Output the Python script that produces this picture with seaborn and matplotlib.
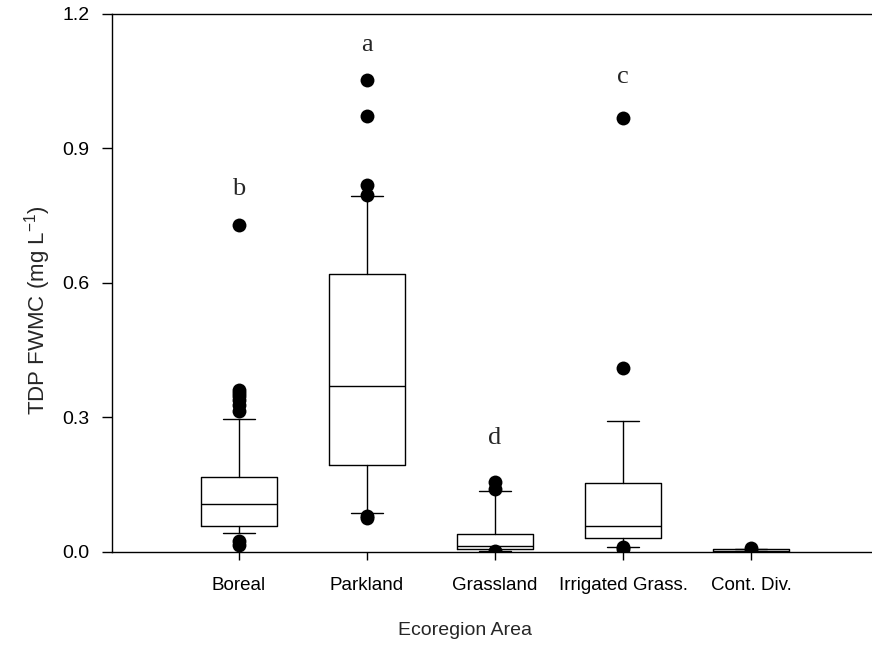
import numpy as np
import pandas as pd
import matplotlib
matplotlib.use("Agg")
import matplotlib.pyplot as plt
import seaborn as sns

# Werte
categories = ["Boreal", "Parkland", "Grassland", "Irrigated Grass.", "Cont. Div."]
q1 = [0.058, 0.194, 0.007, 0.032, 0.001]
medians = [0.107, 0.371, 0.014, 0.058, 0.003]
q3 = [0.168, 0.619, 0.040, 0.153, 0.006]
whisker_low = [0.042, 0.088, 0.003, 0.012, 0.001]
whisker_high = [0.296, 0.793, 0.137, 0.292, 0.006]
fliers = [
    [0.729, 0.362, 0.355, 0.347, 0.338, 0.328, 0.315, 0.025, 0.015],
    [1.053, 0.973, 0.819, 0.796, 0.081, 0.075],
    [0.155, 0.140, 0.003, 0.001],
    [0.967, 0.411, 0.012, 0.007],
    [0.008, 0.003],
]
letters = ["b", "a", "d", "c", ""]
letter_y = [0.81, 1.13, 0.255, 1.06, 0.0]
y_ticks = [0.0, 0.3, 0.6, 0.9, 1.2]

sns.set_style("ticks")
plt.rcParams['font.family'] = ['Liberation Sans', 'DejaVu Sans']
plt.rcParams['mathtext.default'] = 'regular'

fig = plt.figure(figsize=(8.72, 6.5), dpi=100)
ax = fig.add_axes([0.1284, 0.1508, 0.8716, 0.8277])

stats = []
for i, cat in enumerate(categories):
    stats.append({
        'label': cat, 'q1': q1[i], 'med': medians[i], 'q3': q3[i],
        'whislo': whisker_low[i], 'whishi': whisker_high[i], 'fliers': [],
    })

ax.bxp(stats, positions=range(len(categories)), widths=0.6, showfliers=False,
       boxprops=dict(color='black', linewidth=1),
       medianprops=dict(color='black', linewidth=1),
       whiskerprops=dict(color='black', linewidth=1),
       capprops=dict(color='black', linewidth=1), capwidths=0.25)

# Ausreißer als Punkte
flier_df = pd.DataFrame({
    'Region': [cat for cat, f in zip(categories, fliers) for _ in f],
    'TDP': [v for f in fliers for v in f],
})
sns.stripplot(data=flier_df, x='Region', y='TDP', order=categories, jitter=False,
              color='black', size=10, linewidth=0, ax=ax, zorder=3)

for i, (lab, yv) in enumerate(zip(letters, letter_y)):
    if lab:
        ax.text(i, yv, lab, ha='center', va='center', fontsize=19,
                family=['Liberation Serif', 'DejaVu Serif'])

ax.set_xlim(-0.992, 4.945)
ax.set_ylim(0, 1.2)
ax.set_yticks(y_ticks)
ax.set_yticklabels([f"{t:.1f}" for t in y_ticks], fontsize=14)
ax.set_xticks(range(len(categories)))
ax.set_xticklabels(categories, fontsize=13.5)
ax.tick_params(axis='y', direction='out', length=7, width=1, pad=9, colors='black')
ax.tick_params(axis='x', direction='out', length=6, width=1, pad=12, colors='black')

for side in ['left', 'bottom', 'top']:
    ax.spines[side].set_visible(True)
    ax.spines[side].set_color('black')
    ax.spines[side].set_linewidth(1)
ax.spines['right'].set_visible(False)

ax.set_xlabel('Ecoregion Area', fontsize=14)
ax.set_ylabel('TDP FWMC (mg L$^{-1}$)', fontsize=16)
ax.xaxis.set_label_coords(0.464, -0.13)
ax.yaxis.set_label_coords(-0.077, 0.45)

fig.savefig('out.png', dpi=100)
